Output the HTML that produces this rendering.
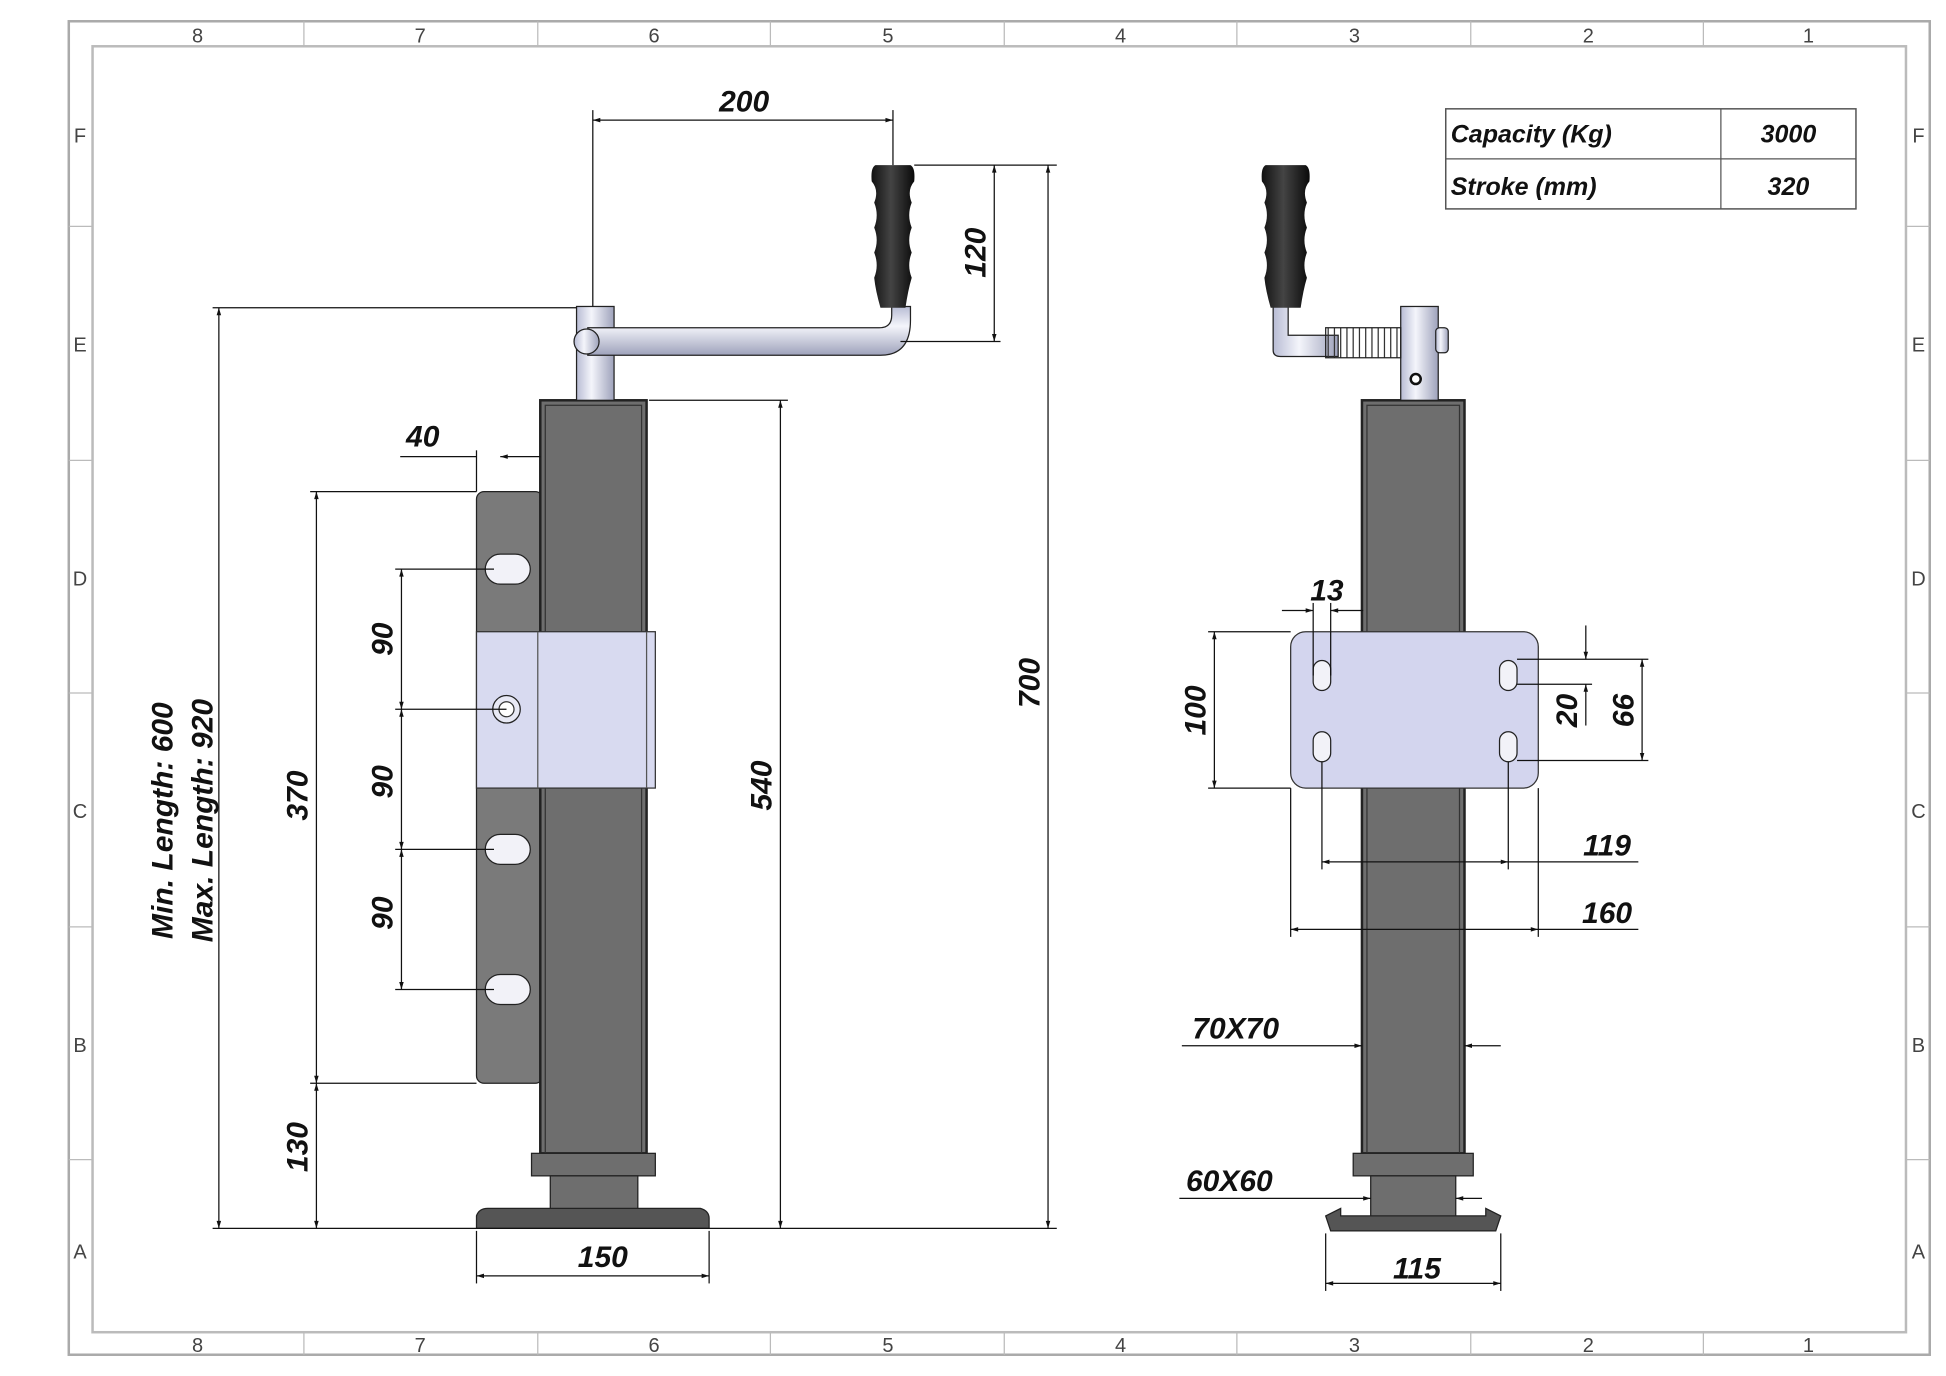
<!DOCTYPE html>
<html><head><meta charset="utf-8"><style>
html,body{margin:0;padding:0;background:#fff}
svg{display:block}
text{font-family:"Liberation Sans",sans-serif;font-style:italic;font-weight:bold;fill:#111}
.z{font-style:normal;font-weight:normal;font-size:16px;fill:#444}
.d{font-size:24px}
</style></head><body>
<svg width="1946" height="1376" viewBox="0 0 1556 1100" preserveAspectRatio="none" xmlns="http://www.w3.org/2000/svg">
<defs>
<marker id="a" viewBox="0 0 10 10" refX="10" refY="5" markerWidth="12" markerHeight="6" orient="auto-start-reverse" markerUnits="userSpaceOnUse"><path d="M0,2 L10,5 L0,8z" fill="#111"/></marker>
<linearGradient id="tube" x1="0" x2="1"><stop offset="0" stop-color="#b8bcd4"/><stop offset=".4" stop-color="#f4f5fb"/><stop offset="1" stop-color="#9ea2bb"/></linearGradient>
<linearGradient id="tubeh" x1="0" y1="0" x2="0" y2="1"><stop offset="0" stop-color="#b8bcd4"/><stop offset=".4" stop-color="#f4f5fb"/><stop offset="1" stop-color="#9ea2bb"/></linearGradient>
<linearGradient id="blk" x1="0" x2="1"><stop offset="0" stop-color="#111"/><stop offset=".45" stop-color="#444"/><stop offset="1" stop-color="#0a0a0a"/></linearGradient>
</defs>
<!-- frame -->
<rect x="55" y="17" width="1488" height="1066" fill="none" stroke="#aaa" stroke-width="2"/>
<rect x="74" y="37" width="1450" height="1028" fill="none" stroke="#bbb" stroke-width="2"/>
<g stroke="#bbb" stroke-width="1">
<line x1="243" y1="17" x2="243" y2="37"/><line x1="430" y1="17" x2="430" y2="37"/><line x1="616" y1="17" x2="616" y2="37"/><line x1="803" y1="17" x2="803" y2="37"/><line x1="989" y1="17" x2="989" y2="37"/><line x1="1176" y1="17" x2="1176" y2="37"/><line x1="1362" y1="17" x2="1362" y2="37"/>
<line x1="243" y1="1065" x2="243" y2="1083"/><line x1="430" y1="1065" x2="430" y2="1083"/><line x1="616" y1="1065" x2="616" y2="1083"/><line x1="803" y1="1065" x2="803" y2="1083"/><line x1="989" y1="1065" x2="989" y2="1083"/><line x1="1176" y1="1065" x2="1176" y2="1083"/><line x1="1362" y1="1065" x2="1362" y2="1083"/>
<line x1="55" y1="181" x2="74" y2="181"/><line x1="55" y1="368" x2="74" y2="368"/><line x1="55" y1="554" x2="74" y2="554"/><line x1="55" y1="741" x2="74" y2="741"/><line x1="55" y1="927" x2="74" y2="927"/>
<line x1="1524" y1="181" x2="1543" y2="181"/><line x1="1524" y1="368" x2="1543" y2="368"/><line x1="1524" y1="554" x2="1543" y2="554"/><line x1="1524" y1="741" x2="1543" y2="741"/><line x1="1524" y1="927" x2="1543" y2="927"/>
</g>
<g class="z" text-anchor="middle">
<text class="z" x="158" y="34">8</text><text class="z" x="336" y="34">7</text><text class="z" x="523" y="34">6</text><text class="z" x="710" y="34">5</text><text class="z" x="896" y="34">4</text><text class="z" x="1083" y="34">3</text><text class="z" x="1270" y="34">2</text><text class="z" x="1446" y="34">1</text>
<text class="z" x="158" y="1081">8</text><text class="z" x="336" y="1081">7</text><text class="z" x="523" y="1081">6</text><text class="z" x="710" y="1081">5</text><text class="z" x="896" y="1081">4</text><text class="z" x="1083" y="1081">3</text><text class="z" x="1270" y="1081">2</text><text class="z" x="1446" y="1081">1</text>
<text class="z" x="64" y="114">F</text><text class="z" x="64" y="281">E</text><text class="z" x="64" y="468">D</text><text class="z" x="64" y="654">C</text><text class="z" x="64" y="841">B</text><text class="z" x="64" y="1006">A</text>
<text class="z" x="1534" y="114">F</text><text class="z" x="1534" y="281">E</text><text class="z" x="1534" y="468">D</text><text class="z" x="1534" y="654">C</text><text class="z" x="1534" y="841">B</text><text class="z" x="1534" y="1006">A</text>
</g>
<!-- table -->
<rect x="1156" y="87" width="328" height="80" fill="none" stroke="#555" stroke-width="1.2"/>
<line x1="1156" y1="127" x2="1484" y2="127" stroke="#555"/><line x1="1376" y1="87" x2="1376" y2="167" stroke="#555"/>
<text x="1160" y="114" font-size="20">Capacity (Kg)</text><text x="1430" y="114" font-size="20" text-anchor="middle">3000</text>
<text x="1160" y="156" font-size="20">Stroke (mm)</text><text x="1430" y="156" font-size="20" text-anchor="middle">320</text>

<!-- LEFT VIEW -->
<rect x="381" y="393" width="53" height="473" rx="6" fill="#7a7a7a" stroke="#222"/>
<g fill="#f2f2f8" stroke="#222"><rect x="388" y="443" width="36" height="24" rx="12"/><rect x="388" y="667" width="36" height="24" rx="12"/><rect x="388" y="779" width="36" height="24" rx="12"/></g>
<rect x="432" y="320" width="85" height="602" fill="#6e6e6e" stroke="#222" stroke-width="2"/>
<rect x="436" y="324" width="77" height="598" fill="none" stroke="#333"/>
<rect x="425" y="922" width="99" height="18" fill="#6e6e6e" stroke="#222"/>
<rect x="440" y="940" width="70" height="28" fill="#6e6e6e" stroke="#222"/>
<path d="M381,982 L381,972 Q383,966 390,966 L560,966 Q567,968 567,974 L567,982z" fill="#555" stroke="#222"/>
<rect x="381" y="505" width="143" height="125" fill="#d8daf0" stroke="#333"/>
<line x1="430" y1="505" x2="430" y2="630" stroke="#555"/><line x1="517" y1="505" x2="517" y2="630" stroke="#555"/>
<circle cx="405" cy="567" r="11" fill="#e8e9f5" stroke="#222"/><circle cx="405" cy="567" r="6" fill="#fff" stroke="#333"/>
<!-- crank -->
<rect x="461" y="245" width="30" height="75" fill="url(#tube)" stroke="#222"/>
<path d="M470,262 L703,262 Q713,262 713,252 L713,245 L728,245 L728,256 Q728,284 704,284 L470,284z" fill="url(#tubeh)" stroke="#222"/>
<circle cx="469" cy="273" r="10" fill="url(#tube)" stroke="#222"/>
<path d="M700,132 L728,132 Q732,134 731,145 Q725,152 729,162 Q725,172 729,182 Q725,192 729,202 Q725,212 729,222 Q726,232 724,246 L704,246 Q700,232 699,222 Q703,212 699,202 Q703,192 699,182 Q703,172 699,162 Q703,152 697,145 Q696,134 700,132z" fill="url(#blk)"/>
<!-- left dims -->
<g stroke="#111" stroke-width="1" fill="none">
<line x1="474" y1="88" x2="474" y2="245"/><line x1="714" y1="88" x2="714" y2="132"/>
<line x1="474" y1="96" x2="714" y2="96" marker-start="url(#a)" marker-end="url(#a)"/>
<line x1="731" y1="132" x2="845" y2="132"/><line x1="720" y1="273" x2="800" y2="273"/>
<line x1="795" y1="132" x2="795" y2="273" marker-start="url(#a)" marker-end="url(#a)"/>
<line x1="838" y1="132" x2="838" y2="982" marker-start="url(#a)" marker-end="url(#a)"/>
<line x1="519" y1="320" x2="630" y2="320"/><line x1="170" y1="982" x2="845" y2="982"/>
<line x1="624" y1="320" x2="624" y2="982" marker-start="url(#a)" marker-end="url(#a)"/>
<line x1="170" y1="246" x2="461" y2="246"/>
<line x1="175" y1="246" x2="175" y2="982" marker-start="url(#a)" marker-end="url(#a)"/>
<line x1="248" y1="393" x2="381" y2="393"/><line x1="248" y1="866" x2="381" y2="866"/>
<line x1="253" y1="393" x2="253" y2="866" marker-start="url(#a)" marker-end="url(#a)"/>
<line x1="253" y1="866" x2="253" y2="982" marker-start="url(#a)" marker-end="url(#a)"/>
<line x1="316" y1="455" x2="395" y2="455"/><line x1="316" y1="567" x2="405" y2="567"/><line x1="316" y1="679" x2="395" y2="679"/><line x1="316" y1="791" x2="395" y2="791"/>
<line x1="321" y1="455" x2="321" y2="567" marker-start="url(#a)" marker-end="url(#a)"/>
<line x1="321" y1="567" x2="321" y2="679" marker-start="url(#a)" marker-end="url(#a)"/>
<line x1="321" y1="679" x2="321" y2="791" marker-start="url(#a)" marker-end="url(#a)"/>
<line x1="381" y1="360" x2="381" y2="393"/>
<line x1="320" y1="365" x2="381" y2="365"/><line x1="432" y1="365" x2="400" y2="365" marker-end="url(#a)"/>
<line x1="381" y1="984" x2="381" y2="1026"/><line x1="567" y1="984" x2="567" y2="1026"/>
<line x1="381" y1="1020" x2="567" y2="1020" marker-start="url(#a)" marker-end="url(#a)"/>
</g>
<text class="d" x="595" y="89" text-anchor="middle">200</text>
<text class="d" transform="translate(788,202) rotate(-90)" text-anchor="middle">120</text>
<text class="d" transform="translate(831,546) rotate(-90)" text-anchor="middle">700</text>
<text class="d" transform="translate(617,628) rotate(-90)" text-anchor="middle">540</text>
<text class="d" x="338" y="357" text-anchor="middle">40</text>
<text class="d" transform="translate(246,636) rotate(-90)" text-anchor="middle">370</text>
<text class="d" transform="translate(246,917) rotate(-90)" text-anchor="middle">130</text>
<text class="d" transform="translate(314,511) rotate(-90)" text-anchor="middle">90</text>
<text class="d" transform="translate(314,625) rotate(-90)" text-anchor="middle">90</text>
<text class="d" transform="translate(314,730) rotate(-90)" text-anchor="middle">90</text>
<text class="d" transform="translate(138,656) rotate(-90)" text-anchor="middle">Min. Length: 600</text>
<text class="d" transform="translate(170,656) rotate(-90)" text-anchor="middle">Max. Length: 920</text>
<text class="d" x="482" y="1013" text-anchor="middle">150</text>

<!-- RIGHT VIEW -->
<rect x="1089" y="320" width="82" height="602" fill="#6e6e6e" stroke="#222" stroke-width="2"/>
<rect x="1093" y="324" width="74" height="598" fill="none" stroke="#333"/>
<rect x="1082" y="922" width="96" height="18" fill="#6e6e6e" stroke="#222"/>
<rect x="1096" y="940" width="68" height="36" fill="#6e6e6e" stroke="#222"/>
<path d="M1060,972 L1072,966 L1072,972 L1188,972 L1188,966 L1200,972 L1196,984 L1064,984z" fill="#555" stroke="#222"/>
<rect x="1032" y="505" width="198" height="125" rx="12" fill="#d3d5ee" stroke="#333"/>
<g fill="#f2f2f8" stroke="#222"><rect x="1050" y="528" width="14" height="24" rx="7"/><rect x="1050" y="585" width="14" height="24" rx="7"/><rect x="1199" y="528" width="14" height="24" rx="7"/><rect x="1199" y="585" width="14" height="24" rx="7"/></g>
<rect x="1120" y="245" width="30" height="75" fill="url(#tube)" stroke="#222"/>
<rect x="1148" y="262" width="10" height="20" rx="3" fill="url(#tube)" stroke="#222"/>
<circle cx="1132" cy="303" r="4" fill="#fff" stroke="#111" stroke-width="2"/>
<path d="M1018,245 L1018,280 Q1018,285 1024,285 L1070,285 L1070,268 L1030,268 L1030,245z" fill="url(#tube)" stroke="#222"/>
<g stroke="#333" fill="none"><path d="M1062,262 L1062,286 M1067,262 L1067,286 M1072,262 L1072,286 M1077,262 L1077,286 M1082,262 L1082,286 M1087,262 L1087,286 M1092,262 L1092,286 M1097,262 L1097,286 M1102,262 L1102,286 M1107,262 L1107,286 M1112,262 L1112,286 M1117,262 L1117,286"/></g>
<rect x="1060" y="262" width="60" height="24" fill="none" stroke="#222"/>
<path d="M1012,132 L1044,132 Q1048,134 1047,145 Q1041,152 1045,162 Q1041,172 1045,182 Q1041,192 1045,202 Q1041,212 1045,222 Q1042,232 1040,246 L1016,246 Q1012,232 1011,222 Q1015,212 1011,202 Q1015,192 1011,182 Q1015,172 1011,162 Q1015,152 1009,145 Q1008,134 1012,132z" fill="url(#blk)"/>
<g stroke="#111" stroke-width="1" fill="none">
<line x1="1050" y1="482" x2="1050" y2="540"/><line x1="1064" y1="482" x2="1064" y2="540"/>
<line x1="1025" y1="488" x2="1050" y2="488" marker-end="url(#a)"/><line x1="1090" y1="488" x2="1064" y2="488" marker-end="url(#a)"/>
<line x1="966" y1="505" x2="1032" y2="505"/><line x1="966" y1="630" x2="1032" y2="630"/>
<line x1="971" y1="505" x2="971" y2="630" marker-start="url(#a)" marker-end="url(#a)"/>
<line x1="1213" y1="527" x2="1318" y2="527"/><line x1="1213" y1="608" x2="1318" y2="608"/><line x1="1213" y1="547" x2="1273" y2="547"/>
<line x1="1313" y1="527" x2="1313" y2="608" marker-start="url(#a)" marker-end="url(#a)"/>
<line x1="1268" y1="500" x2="1268" y2="527" marker-end="url(#a)"/><line x1="1268" y1="580" x2="1268" y2="547" marker-end="url(#a)"/>
<line x1="1057" y1="609" x2="1057" y2="695"/><line x1="1206" y1="609" x2="1206" y2="695"/>
<line x1="1057" y1="689" x2="1206" y2="689" marker-start="url(#a)" marker-end="url(#a)"/><line x1="1206" y1="689" x2="1310" y2="689"/>
<line x1="1032" y1="630" x2="1032" y2="749"/><line x1="1230" y1="630" x2="1230" y2="749"/>
<line x1="1032" y1="743" x2="1230" y2="743" marker-start="url(#a)" marker-end="url(#a)"/><line x1="1230" y1="743" x2="1310" y2="743"/>
<line x1="945" y1="836" x2="1089" y2="836" marker-end="url(#a)"/><line x1="1200" y1="836" x2="1171" y2="836" marker-end="url(#a)"/>
<line x1="943" y1="958" x2="1096" y2="958" marker-end="url(#a)"/><line x1="1185" y1="958" x2="1164" y2="958" marker-end="url(#a)"/>
<line x1="1060" y1="986" x2="1060" y2="1032"/><line x1="1200" y1="986" x2="1200" y2="1032"/>
<line x1="1060" y1="1026" x2="1200" y2="1026" marker-start="url(#a)" marker-end="url(#a)"/>
</g>
<text class="d" x="1061" y="480" text-anchor="middle">13</text>
<text class="d" transform="translate(964,568) rotate(-90)" text-anchor="middle">100</text>
<text class="d" transform="translate(1306,568) rotate(-90)" text-anchor="middle">66</text>
<text class="d" transform="translate(1261,568) rotate(-90)" text-anchor="middle">20</text>
<text class="d" x="1285" y="684" text-anchor="middle">119</text>
<text class="d" x="1285" y="738" text-anchor="middle">160</text>
<text class="d" x="988" y="830" text-anchor="middle">70X70</text>
<text class="d" x="983" y="952" text-anchor="middle">60X60</text>
<text class="d" x="1133" y="1022" text-anchor="middle">115</text>
</svg>
</body></html>
